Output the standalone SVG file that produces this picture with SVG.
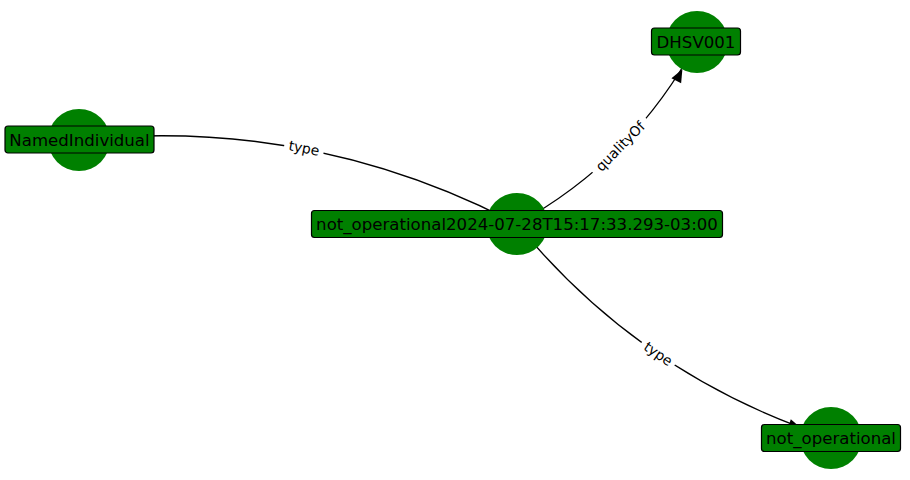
<svg xmlns="http://www.w3.org/2000/svg" width="910" height="480" viewBox="0 0 910 480">
  <style>
    .edge { fill: none; stroke: #000; stroke-width: 1.3; }
    .head { fill: #000; stroke: none; }
    .elbl-bg { fill: #fff; stroke: none; }
    .elbl { font-family: "DejaVu Sans", sans-serif; font-size: 13.9px; fill: #000; text-anchor: middle; }
    .dot { fill: #008000; }
    .box { fill: #008000; stroke: #000; stroke-width: 1.2; }
    .nlbl { font-family: "DejaVu Sans", sans-serif; font-size: 16.6px; fill: #000; text-anchor: middle; }
  </style>
  <rect width="910" height="480" fill="#fff"/>

  <g id="edges">
    <!-- individual -> NamedIndividual (type) -->
    <path class="edge" d="M517,224 Q310.6,116.3 79,140"/>
    <polygon class="head" points="0,0 -13,-5.5 -13,5.5" transform="translate(110,137) rotate(174.1)"/>
    <g transform="translate(304,148.5) rotate(10.9)">
      <rect class="elbl-bg" x="-20" y="-10" width="40" height="20"/>
      <text class="elbl" x="0" y="4.5">type</text>
    </g>

    <!-- individual -> DHSV001 (qualityOf) -->
    <path class="edge" d="M517,224 Q634,160 697,42"/>
    <polygon class="head" points="0,0 -13,-5.5 -13,5.5" transform="translate(682.4,69.3) rotate(-61.9)"/>
    <g transform="translate(620.5,146.5) rotate(-45.3)">
      <rect class="elbl-bg" x="-38" y="-10" width="76" height="20"/>
      <text class="elbl" x="0" y="4.5">qualityOf</text>
    </g>

    <!-- individual -> not_operational (type) -->
    <path class="edge" d="M517,224 Q642,377 831,438"/>
    <polygon class="head" points="0,0 -13,-5.5 -13,5.5" transform="translate(801.5,428.5) rotate(17.9)"/>
    <g transform="translate(658,354) rotate(34.3)">
      <rect class="elbl-bg" x="-20" y="-10" width="40" height="20"/>
      <text class="elbl" x="0" y="4.5">type</text>
    </g>
  </g>

  <g id="node-NamedIndividual">
    <circle class="dot" cx="79" cy="140" r="31"/>
    <rect class="box" x="5" y="126" width="149" height="27" rx="3"/>
    <text class="nlbl" x="79.5" y="145.5">NamedIndividual</text>
  </g>

  <g id="node-individual">
    <circle class="dot" cx="517" cy="224" r="31"/>
    <rect class="box" x="311.5" y="210.5" width="411" height="27" rx="3"/>
    <text class="nlbl" x="517" y="230">not_operational2024-07-28T15:17:33.293-03:00</text>
  </g>

  <g id="node-DHSV001">
    <circle class="dot" cx="697" cy="42" r="31"/>
    <rect class="box" x="651.5" y="28" width="89" height="27" rx="3"/>
    <text class="nlbl" x="696" y="47.5">DHSV001</text>
  </g>

  <g id="node-not_operational">
    <circle class="dot" cx="831" cy="438" r="31"/>
    <rect class="box" x="761.5" y="424.5" width="139" height="27" rx="3"/>
    <text class="nlbl" x="831" y="444">not_operational</text>
  </g>
</svg>
